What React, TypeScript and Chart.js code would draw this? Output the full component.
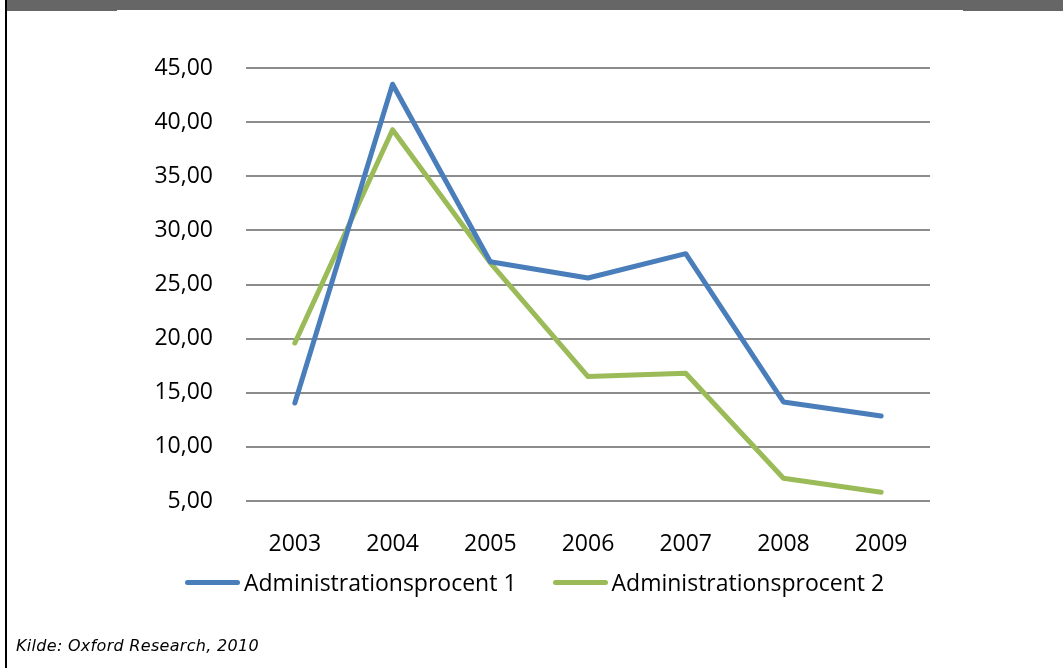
import React, { useEffect, useRef } from "react";
import { Chart, registerables } from "chart.js";

Chart.register(...registerables);

const years = ["2003", "2004", "2005", "2006", "2007", "2008", "2009"];
const series1Label = "Administrationsprocent 1";
const series2Label = "Administrationsprocent 2";
const series1 = [14.05, 43.5, 27.1, 25.6, 27.85, 14.15, 12.85];
const series2 = [19.6, 39.3, 27.0, 16.5, 16.8, 7.1, 5.8];
const yMin = 5;
const yMax = 45;
const yStep = 5;
const sourceText = "Kilde: Oxford Research, 2010";

const BLUE = "#4a7ebb";
const GREEN = "#9bbb59";
const FONT = "'Open Sans', sans-serif";

export default function App() {
  const ref = useRef<HTMLCanvasElement | null>(null);

  useEffect(() => {
    if (!ref.current) return;
    const chart = new Chart(ref.current, {
      type: "line",
      data: {
        labels: years,
        datasets: [
          {
            label: series1Label,
            data: series1,
            borderColor: BLUE,
            backgroundColor: BLUE,
            borderWidth: 5,
            pointRadius: 0,
            borderJoinStyle: "round",
            borderCapStyle: "round",
            tension: 0,
          },
          {
            label: series2Label,
            data: series2,
            borderColor: GREEN,
            backgroundColor: GREEN,
            borderWidth: 5,
            pointRadius: 0,
            borderJoinStyle: "round",
            borderCapStyle: "round",
            tension: 0,
          },
        ],
      },
      options: {
        responsive: false,
        animation: false,
        layout: { padding: { top: 68, right: 133, left: 0, bottom: 0 } },
        plugins: { legend: { display: false }, tooltip: { enabled: false } },
        scales: {
          x: {
            offset: true,
            grid: { display: false, drawTicks: false, offset: true },
            border: { display: false },
            ticks: {
              color: "#000",
              padding: 30,
              font: { family: FONT, size: 23 },
            },
            afterFit: (s: any) => {
              s.height = 167;
            },
          },
          y: {
            min: yMin,
            max: yMax,
            grid: { color: "#8c8c8c", lineWidth: 2, drawTicks: false },
            border: { display: false },
            ticks: {
              stepSize: yStep,
              color: "#000",
              padding: 33,
              font: { family: FONT, size: 23 },
              callback: (v: any) => Number(v).toFixed(2).replace(".", ","),
            },
            afterFit: (s: any) => {
              s.width = 246;
            },
          },
        },
      },
    });
    return () => chart.destroy();
  }, []);

  const legendText: React.CSSProperties = {
    fontFamily: FONT,
    fontSize: 23,
    color: "#000",
    whiteSpace: "nowrap",
  };
  const swatch = (c: string): React.CSSProperties => ({
    width: 55,
    height: 5,
    borderRadius: 3,
    background: c,
    marginRight: 4,
  });

  return (
    <div style={{ position: "fixed", left: 0, top: 0, width: 1063, height: 668, background: "#fff", overflow: "hidden" }}>
      <canvas ref={ref} width={1063} height={668} style={{ position: "absolute", left: 0, top: 0, width: 1063, height: 668 }} />
      <div style={{ position: "absolute", left: 7, top: 0, width: 1056, height: 10, background: "#666" }} />
      <div style={{ position: "absolute", left: 7, top: 0, width: 110, height: 11, background: "#666" }} />
      <div style={{ position: "absolute", left: 963, top: 0, width: 100, height: 11, background: "#666" }} />
      <div style={{ position: "absolute", left: 5, top: 0, width: 2, height: 668, background: "#000" }} />
      <div style={{ position: "absolute", left: 185, top: 566, display: "flex", alignItems: "center", height: 32 }}>
        <div style={swatch(BLUE)} />
        <span style={legendText}>{series1Label}</span>
        <div style={{ ...swatch(GREEN), marginLeft: 36 }} />
        <span style={legendText}>{series2Label}</span>
      </div>
      <div
        style={{
          position: "absolute",
          left: 16,
          top: 636,
          fontFamily: "'DejaVu Sans', sans-serif",
          fontStyle: "italic",
          fontSize: 16,
          letterSpacing: 0.3,
          color: "#000",
        }}
      >
        {sourceText}
      </div>
    </div>
  );
}
